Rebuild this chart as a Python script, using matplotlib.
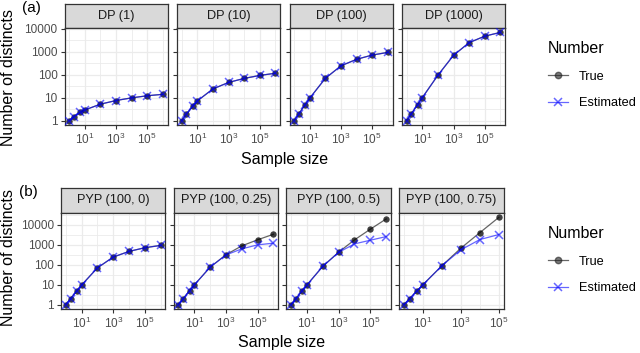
import matplotlib
matplotlib.use("Agg")
import matplotlib.pyplot as plt
import numpy as np
from matplotlib.lines import Line2D
from matplotlib.ticker import NullLocator

plt.rcParams["font.family"] = ["Liberation Sans", "DejaVu Sans"]
plt.rcParams["mathtext.fontset"] = "custom"
plt.rcParams["mathtext.rm"] = "Liberation Sans"
plt.rcParams["mathtext.it"] = "Liberation Sans:italic"

W, H = 640, 353

# sample sizes (x) for each panel
sample_sizes = [1, 2, 5, 10, 100, 1e3, 1e4, 1e5, 1e6]
sample_sizes_short = [1, 2, 5, 10, 100, 1e3, 1e4, 1e5]

# (a) Dirichlet process panels
dp_labels = ["DP (1)", "DP (10)", "DP (100)", "DP (1000)"]
dp1_true = [1, 1.5, 2.3, 2.9, 5.2, 7.5, 9.8, 12.1, 14.0]
dp1_est = [1, 1.5, 2.3, 2.9, 5.2, 7.5, 9.8, 12.1, 14.0]
dp10_true = [1, 1.9, 4.2, 7.2, 24, 46, 69, 93, 116]
dp10_est = [1, 1.9, 4.2, 7.2, 24, 46, 69, 93, 116]
dp100_true = [1, 2, 4.9, 9.6, 70, 245, 470, 720, 940]
dp100_est = [1, 2, 4.9, 9.6, 70, 245, 470, 720, 940]
dp1000_true = [1, 2, 5, 10, 95, 700, 2500, 4800, 7000]
dp1000_est = [1, 2, 5, 10, 95, 700, 2500, 4800, 7000]

# (b) Pitman-Yor process panels
pyp_labels = ["PYP (100, 0)", "PYP (100, 0.25)", "PYP (100, 0.5)", "PYP (100, 0.75)"]
pyp0_true = [1, 2, 4.9, 9.6, 70, 245, 470, 720, 940]
pyp0_est = [1, 2, 4.9, 9.6, 70, 245, 470, 720, 940]
pyp25_true = [1, 2, 5, 9.7, 76, 320, 890, 1800, 3400]
pyp25_est = [1, 2, 5, 9.7, 76, 310, 630, 1000, 1220]
pyp50_true = [1, 2, 5, 9.8, 84, 430, 1780, 6100, 20000]
pyp50_est = [1, 2, 5, 9.8, 84, 420, 1120, 1710, 2600]
pyp75_true = [1, 2, 5, 9.9, 89, 680, 4100, 24000]
pyp75_est = [1, 2, 5, 9.9, 89, 560, 1850, 3300]

TRUE_COL = "black"
EST_COL = "blue"
BORDER = "#333333"
GRID = "#EBEBEB"


def px(x0, y0, x1, y1):
    return [x0 / W, 1 - y1 / H, (x1 - x0) / W, (y1 - y0) / H]


def log_limits(vals):
    lo, hi = np.log10(min(vals)), np.log10(max(vals))
    pad = 0.05 * (hi - lo)
    return lo - pad, hi + pad


def draw_panel(fig, left, width, strip_top, top, bottom, label,
               x, y_true, y_est, ylim, show_y):
    sax = fig.add_axes(px(left, strip_top, left + width, top))
    sax.set_facecolor("#D9D9D9")
    sax.set_xticks([])
    sax.set_yticks([])
    for sp in sax.spines.values():
        sp.set_color(BORDER)
        sp.set_linewidth(0.9)
    sax.text(0.5, 0.5, label, ha="center", va="center", fontsize=9.2,
             color="#1A1A1A", transform=sax.transAxes)

    ax = fig.add_axes(px(left, top, left + width, bottom))
    ax.set_xscale("log")
    ax.set_yscale("log")
    xlo, xhi = log_limits(x)
    ax.set_xlim(10 ** xlo, 10 ** xhi)
    ax.set_ylim(10 ** ylim[0], 10 ** ylim[1])

    # ggplot-like grid: every decade on x, every half decade on y
    for d in range(int(np.ceil(xlo)), int(np.floor(xhi)) + 1):
        ax.axvline(10 ** d, color=GRID, lw=0.9 if d % 2 else 0.6, zorder=0)
    for h in np.arange(0, 5.5, 0.5):
        if ylim[0] < h < ylim[1]:
            ax.axhline(10 ** h, color=GRID, lw=0.9 if h == int(h) else 0.6, zorder=0)

    ax.plot(x, y_true, color=TRUE_COL, alpha=0.6, lw=0.9, zorder=2)
    ax.plot(x, y_true, "o", color=TRUE_COL, alpha=0.75, ms=4.6, mew=0, zorder=3)
    ax.plot(x, y_est, color=EST_COL, alpha=0.6, lw=0.9, zorder=4)
    ax.plot(x, y_est, "x", color=EST_COL, alpha=0.6, ms=5.5, mew=1.1, zorder=5)

    ax.xaxis.set_minor_locator(NullLocator())
    ax.yaxis.set_minor_locator(NullLocator())
    ax.set_xticks([10, 1e3, 1e5])
    ax.set_xticklabels([r"$10^{1}$", r"$10^{3}$", r"$10^{5}$"])
    ax.set_yticks([1, 10, 100, 1000, 10000])
    if show_y:
        ax.set_yticklabels(["1", "10", "100", "1000", "10000"])
    else:
        ax.tick_params(axis="y", length=0, labelleft=False)
    ax.tick_params(axis="both", which="major", length=3, width=0.8,
                   color=BORDER, labelcolor="#4D4D4D", labelsize=8.5, pad=2)
    for sp in ax.spines.values():
        sp.set_color(BORDER)
        sp.set_linewidth(0.9)
    return ax


fig = plt.figure(figsize=(W / 100, H / 100), dpi=100)

# (a) row
top_rows = [(dp1_true, dp1_est), (dp10_true, dp10_est),
            (dp100_true, dp100_est), (dp1000_true, dp1000_est)]
ylim_a = log_limits([v for t, e in top_rows for v in t + e])
for i, (lab, (yt, ye)) in enumerate(zip(dp_labels, top_rows)):
    draw_panel(fig, 64.5 + i * 112.5, 103, 4, 28, 125, lab,
               sample_sizes, yt, ye, ylim_a, i == 0)

# (b) row
bottom_rows = [(sample_sizes, pyp0_true, pyp0_est),
               (sample_sizes, pyp25_true, pyp25_est),
               (sample_sizes, pyp50_true, pyp50_est),
               (sample_sizes_short, pyp75_true, pyp75_est)]
ylim_b = log_limits([v for _, t, e in bottom_rows for v in t + e])
for i, (lab, (xs, yt, ye)) in enumerate(zip(pyp_labels, bottom_rows)):
    draw_panel(fig, 61 + i * 112.7, 104.5, 188, 213, 309, lab,
               xs, yt, ye, ylim_b, i == 0)

# axis titles and panel tags
fig.text(9 / W, 1 - 77 / H, "Number of distincts", rotation=90,
         ha="center", va="center", fontsize=11.5)
fig.text(9 / W, 1 - 257 / H, "Number of distincts", rotation=90,
         ha="center", va="center", fontsize=11.5)
fig.text(285 / W, 1 - 159 / H, "Sample size", ha="center", va="center", fontsize=11.5)
fig.text(282 / W, 1 - 342 / H, "Sample size", ha="center", va="center", fontsize=11.5)
fig.text(31 / W, 1 - 8 / H, "(a)", ha="center", va="center", fontsize=11)
fig.text(28 / W, 1 - 192 / H, "(b)", ha="center", va="center", fontsize=11)

handles = [
    Line2D([], [], color=TRUE_COL, alpha=0.6, lw=0.9, marker="o", ms=4.6,
           mfc="#222222", mec="#222222"),
    Line2D([], [], color=EST_COL, alpha=0.6, lw=0.9, marker="x", ms=5.5, mew=1.1),
]
for ytop in (41, 226):
    fig.legend(handles, ["True", "Estimated"], title="Number",
               loc="upper left", bbox_to_anchor=(548 / W, 1 - ytop / H),
               frameon=False, fontsize=9.2, title_fontsize=11.5,
               handlelength=1.6, handletextpad=0.8, labelspacing=1.15,
               borderpad=0, borderaxespad=0, alignment="left")

fig.savefig("out.png", dpi=100)
